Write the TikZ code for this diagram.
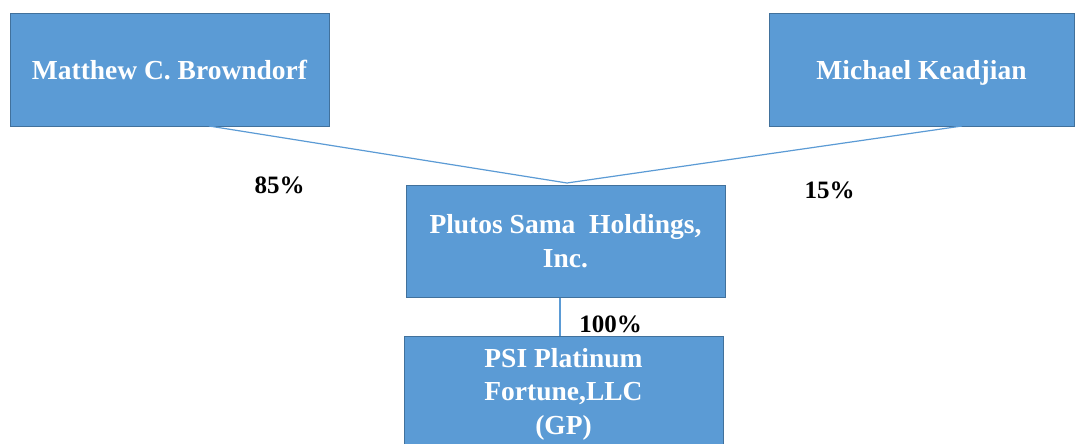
\documentclass[tikz,border=0pt]{standalone}
\usepackage{fontspec}
\setmainfont{Liberation Serif}
\definecolor{boxfill}{HTML}{5B9BD5}
\definecolor{boxline}{HTML}{41719C}
\definecolor{conn}{HTML}{5B9BD5}
\tikzset{
  entity/.style={draw=boxline, line width=1pt, fill=boxfill, text=white,
    font=\fontsize{27.5}{33.5}\selectfont\bfseries, align=center,
    inner sep=0pt},
  pct/.style={font=\fontsize{25}{28}\selectfont\bfseries, text=black, anchor=base, inner sep=0pt},
  link/.style={draw=conn, line width=1.2pt}
}
\begin{document}
\begin{tikzpicture}[x=1pt,y=-1pt]
\useasboundingbox (0,0) rectangle (1076,444);
\clip (0,0) rectangle (1076,444);
\fill[white] (0,0) rectangle (1076,444);
\node[entity, minimum width=319pt, minimum height=112pt, text depth=0pt] (matt) at (169.5,70) {Matthew C. Browndorf};
\node[entity, minimum width=305pt, minimum height=112pt, text depth=0pt] (mich) at (921.5,70) {Michael Keadjian};
\node[entity, minimum width=319pt, minimum height=112pt] (plut) at (565.5,241) {Plutos Sama\ \ Holdings,\\Inc.};
\node[entity, minimum width=319pt, minimum height=116pt] (psi) at (563.5,394) {PSI Platinum\\Fortune,LLC\\(GP)};
\coordinate (mfoot) at (209,126);
\coordinate (kfoot) at (962,126);
\coordinate (apex) at (567,183);
\coordinate (ptop) at (560,297);
\coordinate (pbot) at (560,336);
\draw[link] (mfoot) -- (apex) -- (kfoot);
\draw[link] (plut.south -| ptop) -- (psi.north -| pbot);
\node[pct] (p85) at (279.5,193) {85\%};
\node[pct] (p15) at (829.5,198) {15\%};
\node[pct] (p100) at (610.5,332) {100\%};
\end{tikzpicture}
\end{document}
